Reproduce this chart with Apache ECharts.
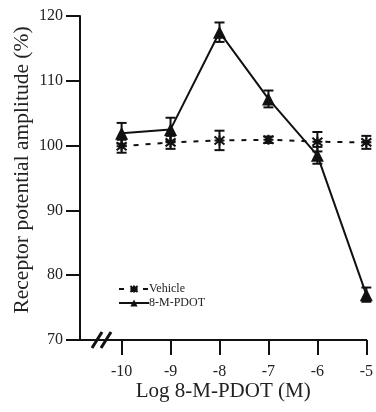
<!DOCTYPE html>
<html>
<head>
<meta charset="utf-8">
<script src="https://cdn.jsdelivr.net/npm/echarts@6/dist/echarts.min.js"></script>
<style>
  html, body { margin: 0; padding: 0; background: #fff; }
  #chart { width: 376px; height: 412px; }
</style>
</head>
<body>
<div id="chart"></div>
<script>
// Log concentration of 8-M-PDOT (M)
const logConc = [-10, -9, -8, -7, -6, -5];
const xTickLabels = ['-10', '-9', '-8', '-7', '-6', '-5'];
// Mean receptor potential amplitude (%) and error (+/-)
const vehicleMean = [99.9, 100.5, 100.8, 100.9, 100.6, 100.5];
const vehicleErr = [1.0, 1.0, 1.5, 0.5, 1.5, 1.0];
const pdotMean = [101.9, 102.5, 117.5, 107.2, 98.5, 77.0];
const pdotErr = [1.6, 1.8, 1.5, 1.3, 1.3, 1.1];

const FONT = '"Liberation Serif", "DejaVu Serif", serif';

function pairs(xs, ys) { return xs.map((x, i) => [x, ys[i]]); }
function errData(xs, ys, es) { return xs.map((x, i) => [x, ys[i] - es[i], ys[i] + es[i]]); }

function errorBars(data, name) {
  return {
    type: 'custom',
    name: name,
    data: data,
    z: 3,
    silent: true,
    renderItem: function (params, api) {
      const x = api.value(0);
      const lo = api.coord([x, api.value(1)]);
      const hi = api.coord([x, api.value(2)]);
      const w = 5;
      const style = { stroke: '#111', lineWidth: 2 };
      return {
        type: 'group',
        children: [
          { type: 'line', shape: { x1: lo[0], y1: lo[1], x2: hi[0], y2: hi[1] }, style: style },
          { type: 'line', shape: { x1: lo[0] - w, y1: lo[1], x2: lo[0] + w, y2: lo[1] }, style: style },
          { type: 'line', shape: { x1: hi[0] - w, y1: hi[1], x2: hi[0] + w, y2: hi[1] }, style: style }
        ]
      };
    }
  };
}

// asterisk-like marker for the vehicle series
const starPath = 'path://M-5,-4L5,4M-5,4L5,-4M0,-5L0,5M-5,0L5,0';

const chart = echarts.init(document.getElementById('chart'), null, { renderer: 'canvas' });

chart.setOption({
  animation: false,
  backgroundColor: '#fff',
  grid: { left: 80, right: 7, top: 16, bottom: 72, containLabel: false },
  xAxis: {
    type: 'value',
    min: -10.85,
    max: -5,
    name: 'Log 8-M-PDOT (M)',
    nameLocation: 'middle',
    nameGap: 41,
    nameMoveOverlap: false,
    nameTextStyle: { fontFamily: FONT, fontSize: 21, color: '#222' },
    axisLine: { onZero: false, lineStyle: { color: '#111', width: 2 } },
    axisTick: { show: true, length: 15, lineStyle: { color: '#111', width: 2 }, customValues: logConc },
    axisLabel: {
      customValues: logConc,
      formatter: function (v) { const i = logConc.indexOf(v); return i >= 0 ? xTickLabels[i] : ''; },
      fontFamily: FONT, fontSize: 16, color: '#222', margin: 24
    },
    splitLine: { show: false }
  },
  yAxis: {
    type: 'value',
    min: 70,
    max: 120,
    interval: 10,
    name: 'Receptor potential amplitude (%)',
    nameLocation: 'middle',
    nameGap: 47,
    nameMoveOverlap: false,
    nameTextStyle: { fontFamily: FONT, fontSize: 21.5, color: '#222', padding: [0, 0, 0, 16] },
    axisLine: { show: true, lineStyle: { color: '#111', width: 2 } },
    axisTick: { show: true, length: 14, lineStyle: { color: '#111', width: 2 } },
    axisLabel: { fontFamily: FONT, fontSize: 16, color: '#222', margin: 17 },
    splitLine: { show: false }
  },
  legend: {
    left: 113,
    top: 278,
    orient: 'vertical',
    itemGap: 2,
    itemWidth: 30,
    itemHeight: 9,
    textStyle: { fontFamily: FONT, fontSize: 12, color: '#222', padding: [0, 0, 0, -5] },
    data: ['Vehicle', '8-M-PDOT']
  },
  series: [
    {
      name: 'Vehicle',
      type: 'line',
      data: pairs(logConc, vehicleMean),
      symbol: starPath,
      symbolSize: 10,
      z: 4,
      lineStyle: { color: '#111', width: 2, type: [5, 7] },
      itemStyle: { color: '#111', borderColor: '#111', borderWidth: 2 }
    },
    {
      name: '8-M-PDOT',
      type: 'line',
      data: pairs(logConc, pdotMean),
      symbol: 'triangle',
      symbolSize: 13,
      z: 5,
      lineStyle: { color: '#111', width: 2 },
      itemStyle: { color: '#111' }
    },
    errorBars(errData(logConc, vehicleMean, vehicleErr), 'vehicleErr'),
    errorBars(errData(logConc, pdotMean, pdotErr), 'pdotErr')
  ],
  graphic: [
    // axis break marks on the x axis
    { type: 'line', shape: { x1: 92, y1: 348, x2: 102, y2: 332 }, style: { stroke: '#111', lineWidth: 3 } },
    { type: 'line', shape: { x1: 101, y1: 348, x2: 111, y2: 332 }, style: { stroke: '#111', lineWidth: 3 } }
  ]
});
</script>
</body>
</html>
